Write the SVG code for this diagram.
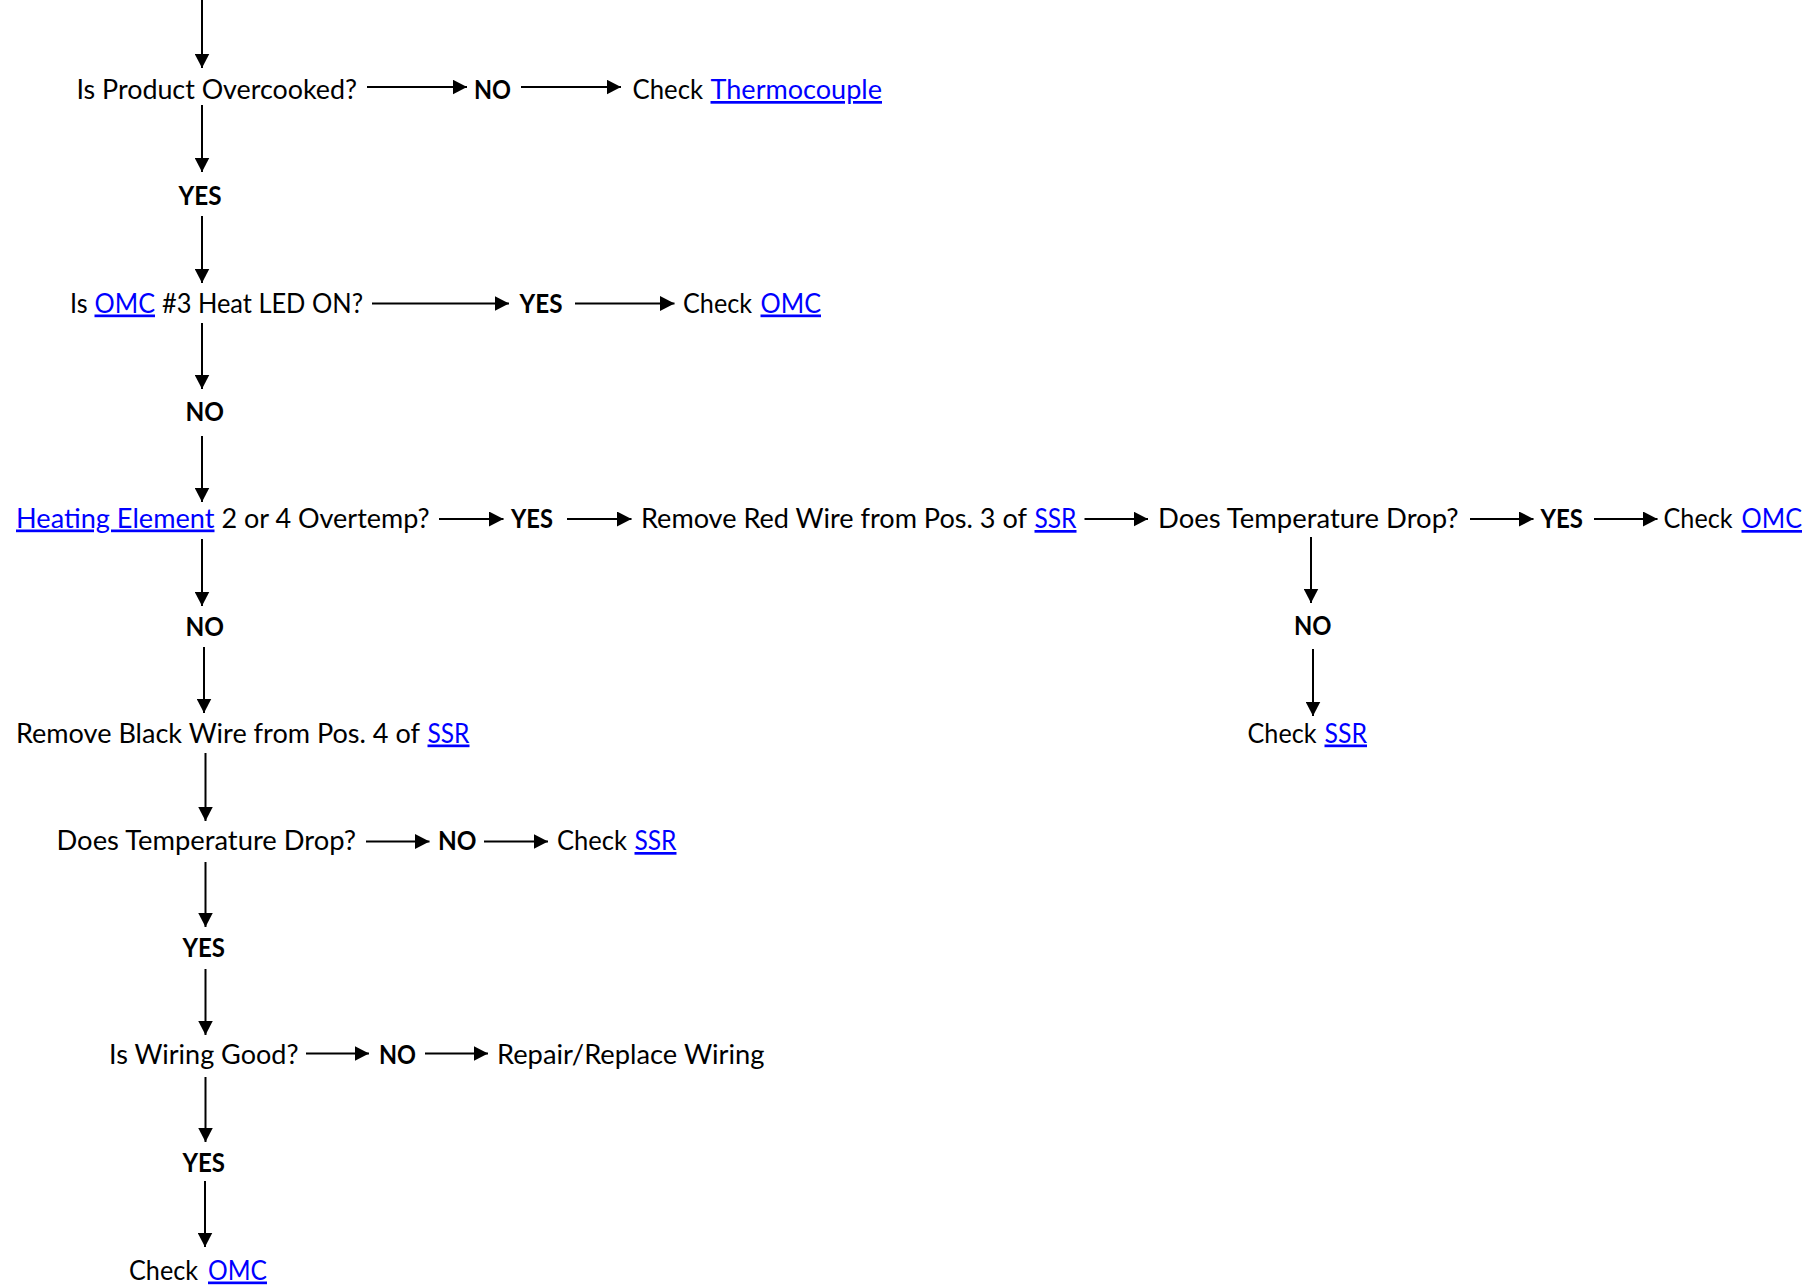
<svg xmlns="http://www.w3.org/2000/svg" width="1803" height="1288" viewBox="0 0 1803 1288">
  <defs>
    <style>
      .t { font-family: Lato, "Open Sans", "Liberation Sans", sans-serif; font-size: 27px; fill: #000; }
      .b { font-weight: bold; }
      .lk { fill: #0000FF; text-decoration: underline; }
      .c { stroke: #000; stroke-width: 2; fill: none; marker-end: url(#ah); }
    </style>
    <marker id="ah" markerUnits="userSpaceOnUse" markerWidth="15" markerHeight="15" refX="14.5" refY="7.5" orient="auto">
      <path d="M0,0 L14.5,7.5 L0,15 Z" fill="#000"/>
    </marker>
  </defs>
  <rect width="1803" height="1288" fill="#fff"/>

  <!-- connectors -->
  <g id="connectors">
    <!-- main vertical spine -->
    <line class="c" x1="202" y1="0" x2="202" y2="68"/>
    <line class="c" x1="202" y1="105" x2="202" y2="172"/>
    <line class="c" x1="202" y1="216" x2="202" y2="283"/>
    <line class="c" x1="202" y1="323" x2="202" y2="389"/>
    <line class="c" x1="202" y1="436" x2="202" y2="502"/>
    <line class="c" x1="202" y1="539" x2="202" y2="606"/>
    <line class="c" x1="204" y1="647" x2="204" y2="713"/>
    <line class="c" x1="205.5" y1="753" x2="205.5" y2="821"/>
    <line class="c" x1="205.5" y1="862" x2="205.5" y2="927"/>
    <line class="c" x1="205.5" y1="969" x2="205.5" y2="1035"/>
    <line class="c" x1="205.5" y1="1077" x2="205.5" y2="1142"/>
    <line class="c" x1="205" y1="1181" x2="205" y2="1247"/>
    <!-- right branch vertical -->
    <line class="c" x1="1311" y1="537" x2="1311" y2="603"/>
    <line class="c" x1="1313" y1="649" x2="1313" y2="716"/>
    <!-- horizontal branches -->
    <line class="c" x1="367" y1="87" x2="467" y2="87"/>
    <line class="c" x1="521" y1="87" x2="621" y2="87"/>
    <line class="c" x1="372" y1="303.5" x2="509" y2="303.5"/>
    <line class="c" x1="575" y1="303.5" x2="674.5" y2="303.5"/>
    <line class="c" x1="439" y1="519" x2="503.5" y2="519"/>
    <line class="c" x1="567" y1="519" x2="631.5" y2="519"/>
    <line class="c" x1="1084.5" y1="519" x2="1148" y2="519"/>
    <line class="c" x1="1470" y1="519" x2="1533.5" y2="519"/>
    <line class="c" x1="1594" y1="519" x2="1657.5" y2="519"/>
    <line class="c" x1="366" y1="841.5" x2="429.5" y2="841.5"/>
    <line class="c" x1="484" y1="841.5" x2="548" y2="841.5"/>
    <line class="c" x1="306" y1="1053.5" x2="369" y2="1053.5"/>
    <line class="c" x1="425" y1="1053.5" x2="488" y2="1053.5"/>
  </g>

  <!-- row 1 -->
  <g id="q-overcooked">
    <text class="t" x="76.5" y="99" textLength="280.5" lengthAdjust="spacingAndGlyphs">Is Product Overcooked?</text>
  </g>
  <g id="lbl-no-1">
    <text class="t b" x="474" y="99" textLength="37" lengthAdjust="spacingAndGlyphs">NO</text>
  </g>
  <g id="check-thermocouple">
    <text class="t" x="632.5" y="99" textLength="70.5" lengthAdjust="spacingAndGlyphs">Check</text>
    <text class="t lk" x="710.5" y="99" textLength="171.5" lengthAdjust="spacingAndGlyphs">Thermocouple</text>
  </g>
  <g id="lbl-yes-1">
    <text class="t b" x="178.5" y="205" textLength="43" lengthAdjust="spacingAndGlyphs">YES</text>
  </g>

  <!-- row 2 -->
  <g id="q-heat-led">
    <text class="t" x="70" y="312.5" textLength="17.5" lengthAdjust="spacingAndGlyphs">Is</text>
    <text class="t lk" x="94.5" y="312.5" textLength="60.5" lengthAdjust="spacingAndGlyphs">OMC</text>
    <text class="t" x="162" y="312.5" textLength="201" lengthAdjust="spacingAndGlyphs">#3 Heat LED ON?</text>
  </g>
  <g id="lbl-yes-2">
    <text class="t b" x="519.5" y="312.5" textLength="43" lengthAdjust="spacingAndGlyphs">YES</text>
  </g>
  <g id="check-omc-1">
    <text class="t" x="683" y="312.5" textLength="69" lengthAdjust="spacingAndGlyphs">Check</text>
    <text class="t lk" x="760.5" y="312.5" textLength="60.5" lengthAdjust="spacingAndGlyphs">OMC</text>
  </g>
  <g id="lbl-no-2">
    <text class="t b" x="185.5" y="420.5" textLength="38.5" lengthAdjust="spacingAndGlyphs">NO</text>
  </g>

  <!-- row 3 -->
  <g id="q-element-overtemp">
    <text class="t lk" x="16" y="527.5" textLength="198.5" lengthAdjust="spacingAndGlyphs">Heating Element</text>
    <text class="t" x="221.5" y="527.5" textLength="208" lengthAdjust="spacingAndGlyphs">2 or 4 Overtemp?</text>
  </g>
  <g id="lbl-yes-3">
    <text class="t b" x="511" y="527.5" textLength="42" lengthAdjust="spacingAndGlyphs">YES</text>
  </g>
  <g id="remove-red-wire">
    <text class="t" x="641" y="528" textLength="386" lengthAdjust="spacingAndGlyphs">Remove Red Wire from Pos. 3 of</text>
    <text class="t lk" x="1034.5" y="528" textLength="42" lengthAdjust="spacingAndGlyphs">SSR</text>
  </g>
  <g id="q-temp-drop-right">
    <text class="t" x="1158" y="528" textLength="300.5" lengthAdjust="spacingAndGlyphs">Does Temperature Drop?</text>
  </g>
  <g id="lbl-yes-4">
    <text class="t b" x="1540.5" y="528" textLength="42.5" lengthAdjust="spacingAndGlyphs">YES</text>
  </g>
  <g id="check-omc-2">
    <text class="t" x="1663.5" y="528" textLength="69" lengthAdjust="spacingAndGlyphs">Check</text>
    <text class="t lk" x="1741.5" y="528" textLength="60.5" lengthAdjust="spacingAndGlyphs">OMC</text>
  </g>

  <!-- row 4 -->
  <g id="lbl-no-3">
    <text class="t b" x="185.5" y="635.5" textLength="38.5" lengthAdjust="spacingAndGlyphs">NO</text>
  </g>
  <g id="lbl-no-4">
    <text class="t b" x="1294" y="635" textLength="37.5" lengthAdjust="spacingAndGlyphs">NO</text>
  </g>

  <!-- row 5 -->
  <g id="remove-black-wire">
    <text class="t" x="16" y="742.5" textLength="404" lengthAdjust="spacingAndGlyphs">Remove Black Wire from Pos. 4 of</text>
    <text class="t lk" x="427.5" y="742.5" textLength="42" lengthAdjust="spacingAndGlyphs">SSR</text>
  </g>
  <g id="check-ssr-right">
    <text class="t" x="1247.5" y="742.5" textLength="69" lengthAdjust="spacingAndGlyphs">Check</text>
    <text class="t lk" x="1324.5" y="742.5" textLength="42.5" lengthAdjust="spacingAndGlyphs">SSR</text>
  </g>

  <!-- row 6 -->
  <g id="q-temp-drop-left">
    <text class="t" x="56.5" y="850" textLength="299.5" lengthAdjust="spacingAndGlyphs">Does Temperature Drop?</text>
  </g>
  <g id="lbl-no-5">
    <text class="t b" x="438" y="850" textLength="38.5" lengthAdjust="spacingAndGlyphs">NO</text>
  </g>
  <g id="check-ssr-left">
    <text class="t" x="557" y="850" textLength="70" lengthAdjust="spacingAndGlyphs">Check</text>
    <text class="t lk" x="634.5" y="850" textLength="42" lengthAdjust="spacingAndGlyphs">SSR</text>
  </g>
  <g id="lbl-yes-5">
    <text class="t b" x="182.5" y="956.5" textLength="42.5" lengthAdjust="spacingAndGlyphs">YES</text>
  </g>

  <!-- row 8 -->
  <g id="q-wiring">
    <text class="t" x="109" y="1064" textLength="189.5" lengthAdjust="spacingAndGlyphs">Is Wiring Good?</text>
  </g>
  <g id="lbl-no-6">
    <text class="t b" x="379" y="1064" textLength="37" lengthAdjust="spacingAndGlyphs">NO</text>
  </g>
  <g id="repair-wiring">
    <text class="t" x="497" y="1064" textLength="267.5" lengthAdjust="spacingAndGlyphs">Repair/Replace Wiring</text>
  </g>
  <g id="lbl-yes-6">
    <text class="t b" x="182.5" y="1171.5" textLength="42.5" lengthAdjust="spacingAndGlyphs">YES</text>
  </g>

  <!-- row 10 -->
  <g id="check-omc-3">
    <text class="t" x="129" y="1279.5" textLength="69" lengthAdjust="spacingAndGlyphs">Check</text>
    <text class="t lk" x="208" y="1279.5" textLength="59" lengthAdjust="spacingAndGlyphs">OMC</text>
  </g>
</svg>
